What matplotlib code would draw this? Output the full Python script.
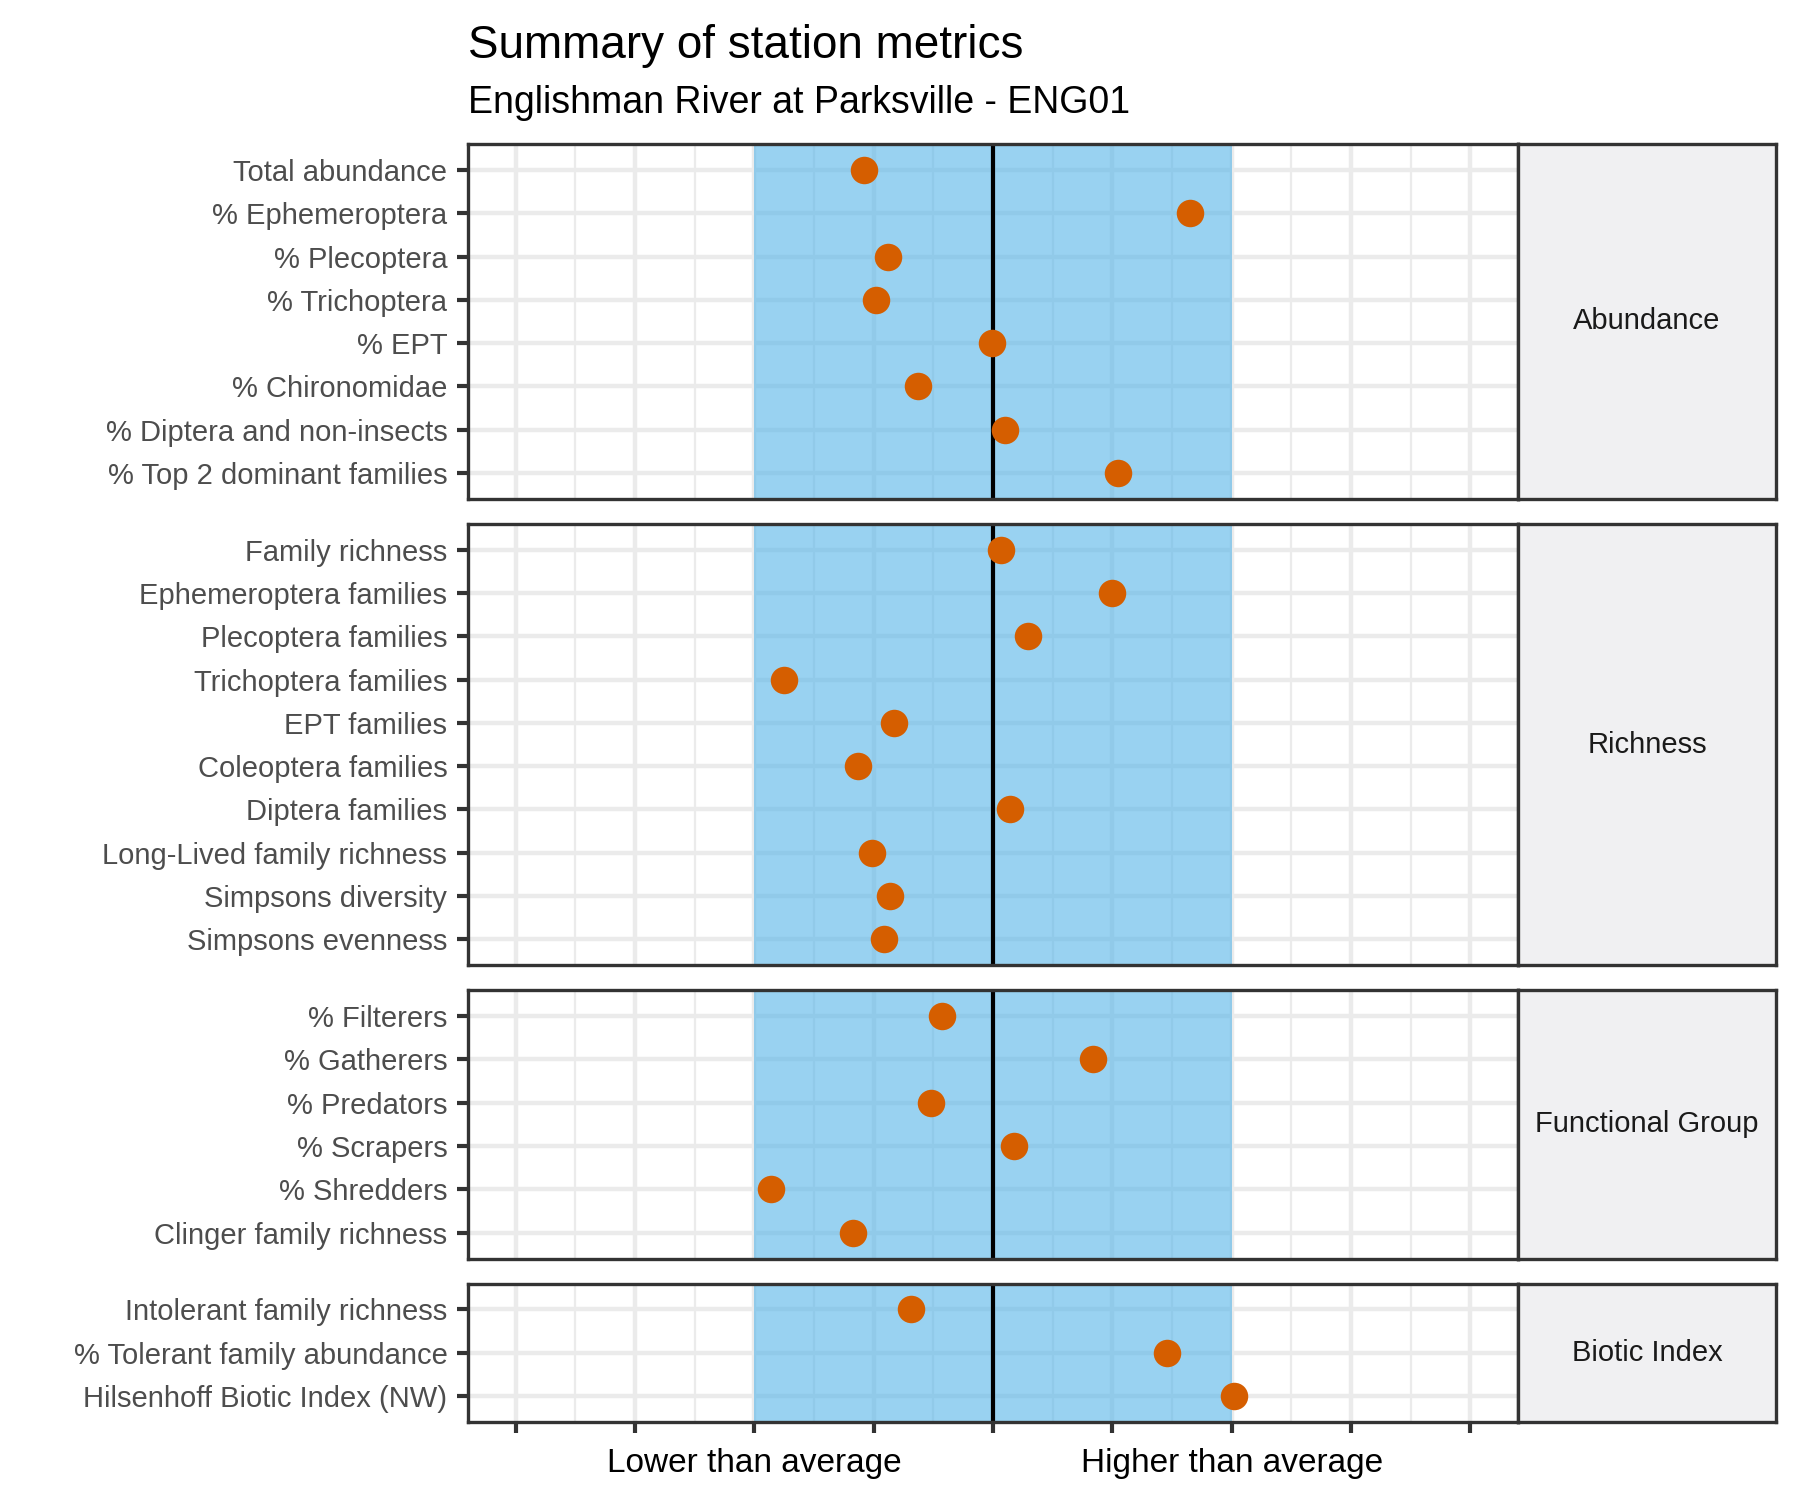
import numpy as np
import matplotlib
matplotlib.use('Agg')
import matplotlib.pyplot as plt

plt.rcParams['font.family'] = ['Liberation Sans', 'DejaVu Sans']

# --- data (standardised scores) ---
groups = ["Abundance", "Richness", "Functional Group", "Biotic Index"]

abundance_metrics = ["Total abundance", "% Ephemeroptera", "% Plecoptera", "% Trichoptera",
                     "% EPT", "% Chironomidae", "% Diptera and non-insects",
                     "% Top 2 dominant families"]
abundance_values = [-1.08, 1.65, -0.88, -0.98, -0.01, -0.63, 0.10, 1.05]

richness_metrics = ["Family richness", "Ephemeroptera families", "Plecoptera families",
                    "Trichoptera families", "EPT families", "Coleoptera families",
                    "Diptera families", "Long-Lived family richness", "Simpsons diversity",
                    "Simpsons evenness"]
richness_values = [0.07, 1.00, 0.29, -1.75, -0.83, -1.13, 0.14, -1.01, -0.86, -0.91]

functional_metrics = ["% Filterers", "% Gatherers", "% Predators", "% Scrapers",
                      "% Shredders", "Clinger family richness"]
functional_values = [-0.43, 0.84, -0.52, 0.18, -1.86, -1.17]

biotic_metrics = ["Intolerant family richness", "% Tolerant family abundance",
                  "Hilsenhoff Biotic Index (NW)"]
biotic_values = [-0.69, 1.46, 2.02]

band_low, band_high = -2, 2
x_breaks = [-4, -3, -2, -1, 0, 1, 2, 3, 4]
x_labels = ["", "", "Lower than average", "", "", "", "Higher than average", "", ""]

panels = [
    (groups[0], abundance_metrics, abundance_values),
    (groups[1], richness_metrics, richness_values),
    (groups[2], functional_metrics, functional_values),
    (groups[3], biotic_metrics, biotic_values),
]

# --- layout in pixels (1800 x 1500 canvas) ---
W, H = 1800, 1500
left, right, strip_right = 468, 1518, 1776
top, bottom, gap = 144, 1422, 25
units = [len(m) + 0.2 for _, m, _ in panels]
unit_px = (bottom - top - gap * (len(panels) - 1)) / sum(units)

border = "#333333"
fig = plt.figure(figsize=(6, 5), dpi=300)

y0 = top
for i, (name, metrics, values) in enumerate(panels):
    h = units[i] * unit_px
    ax = fig.add_axes([left / W, 1 - (y0 + h) / H, (right - left) / W, h / H])
    sx = fig.add_axes([right / W, 1 - (y0 + h) / H, (strip_right - right) / W, h / H])
    y0 += h + gap

    n = len(metrics)
    ypos = np.arange(n)
    ax.set_axisbelow(True)
    ax.axvspan(band_low, band_high, color="#56B4E9", alpha=0.6, lw=0, zorder=1)
    ax.axvline(0, color="black", lw=1.0, zorder=2)
    ax.plot(values, ypos, "o", color="#D55E00", markersize=6.6, markeredgewidth=0, zorder=3)

    ax.set_xlim(-4.4, 4.4)
    ax.set_ylim(n - 0.4, -0.6)
    ax.set_xticks(x_breaks)
    ax.set_xticks(np.arange(-3.5, 4.0, 1.0), minor=True)
    ax.set_yticks(ypos, metrics)
    ax.grid(which="major", color="#EBEBEB", lw=1.07)
    ax.grid(which="minor", axis="x", color="#EBEBEB", lw=0.53)
    ax.tick_params(axis="y", length=2.75, width=1.0, color=border, pad=2.2,
                   labelsize=7, labelcolor="#4D4D4D")
    ax.tick_params(which="minor", length=0)
    if i == len(panels) - 1:
        ax.set_xticklabels(x_labels)
        ax.tick_params(axis="x", length=2.75, width=1.0, color=border, pad=3.4,
                       labelsize=8, labelcolor="black")
    else:
        ax.tick_params(axis="x", bottom=False, labelbottom=False)
    for s in ax.spines.values():
        s.set_color(border)
        s.set_linewidth(0.8)

    # facet strip on the right
    sx.set_facecolor("#F0F0F2")
    sx.set_xticks([])
    sx.set_yticks([])
    for s in sx.spines.values():
        s.set_color(border)
        s.set_linewidth(0.8)
    sx.text(0.5, 0.5, name, ha="center", va="center", fontsize=7, color="#1A1A1A",
            transform=sx.transAxes)

fig.text(left / W, 1 - 58 / H, "Summary of station metrics", fontsize=11, va="baseline")
fig.text(left / W, 1 - 113 / H, "Englishman River at Parksville - ENG01", fontsize=9,
         va="baseline")

fig.savefig("out.png", dpi=300)
